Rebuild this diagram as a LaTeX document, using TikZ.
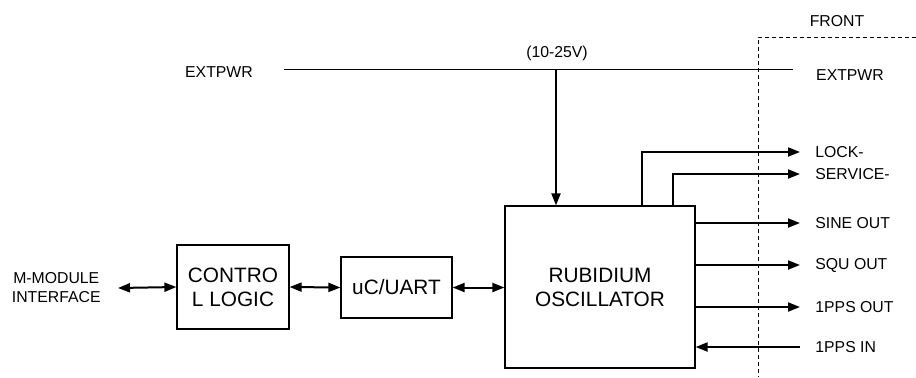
\documentclass[tikz,border=0pt]{standalone}
\usepackage{fontspec}
\setmainfont{Liberation Sans}
\usetikzlibrary{arrows.meta}
\tikzset{%
	block/.style    = {draw, line width=0.6pt, rectangle, align=center,
		font=\fontsize{10.4}{12}\selectfont},
	pin/.style      = {font=\fontsize{7.9}{9.5}\selectfont, inner ysep=1pt}, % Label
	pinout/.style   = {pin, anchor=west, inner xsep=7.5pt}, % Front label
	wire/.style     = {line width=1pt, >={Triangle[length=6pt,width=4.5pt]}}
}

\begin{document}
\begin{tikzpicture}[x=0.5pt,y=-0.5pt]
                \useasboundingbox (0,0) rectangle (916,377);
                \node[block, minimum width=56pt, minimum height=42pt] (ctrl) at (233,287) {CONTRO\\L LOGIC};
                \node[block, minimum width=55.5pt, minimum height=30.5pt] (uart) at (396.5,287.5) {uC/UART};
                \node[block, minimum width=95pt, minimum height=81pt] (rb) at (600,287) {RUBIDIUM\\OSCILLATOR};
                \node[pin, align=center, anchor=east, inner xsep=8.5pt] (mmod) at (118,288) {M-MODULE\\INTERFACE};

                \node[pin] (extl) at (219,72) {EXTPWR};
                \node[pin] (extr) at (850,75) {EXTPWR};
                \node[pin] (volt) at (557,53) {(10-25V)};
                \node[pin] (front) at (837,21) {FRONT};
                \coordinate (pwrl) at (284,69);
                \coordinate (pwrr) at (793,69);
                \coordinate (pwrt) at (556,69);

                \node[pinout] (lock)  at (800,152) {LOCK-};
                \node[pinout] (serv)  at (800,174) {SERVICE-};
                \node[pinout] (sine)  at (800,223) {SINE OUT};
                \node[pinout] (squ)   at (800,265) {SQU OUT};
                \node[pinout] (ppso)  at (800,307) {1PPS OUT};
                \node[pinout] (ppsi)  at (800,347) {1PPS IN};
                \coordinate (lockout) at (642,206);
                \coordinate (servout) at (673,206);

                % front panel
                \draw[line width=0.5pt, dash pattern=on 2pt off 1.5pt] (916,37) -- (758,37) -- (758,377);

                \draw[line width=0.5pt] (pwrl) -- (pwrr);
                \draw[wire,->] (pwrt) -- (pwrt |- rb.north);

                \draw[wire,<->] (mmod.east) -- (ctrl.west);
                \draw[wire,<->] (ctrl.east) -- (uart.west);
                \draw[wire,<->] (uart.east) -- (rb.west |- uart.east);

                \draw[wire,->] (lockout) |- (lock.west);
                \draw[wire,->] (servout) |- (serv.west);
                \draw[wire,->] (rb.east |- sine) -- (sine.west);
                \draw[wire,->] (rb.east |- squ) -- (squ.west);
                \draw[wire,->] (rb.east |- ppso) -- (ppso.west);
                \draw[wire,<-] (rb.east |- ppsi) -- (ppsi.west);
            \end{tikzpicture}
\end{document}
